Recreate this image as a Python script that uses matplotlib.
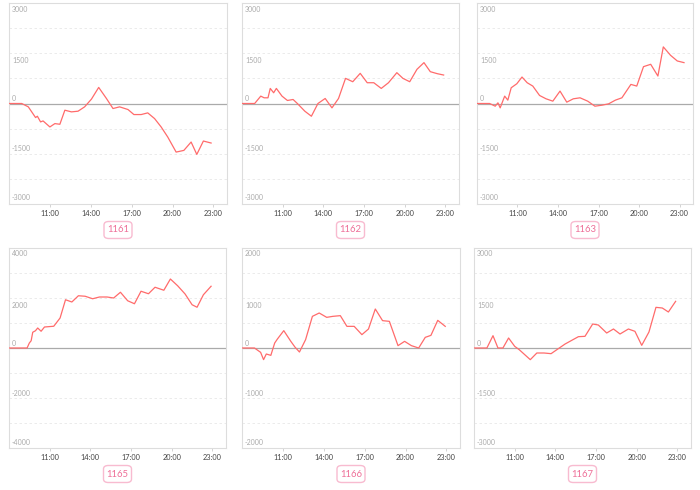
import matplotlib
matplotlib.use("Agg")
import matplotlib.pyplot as plt
from matplotlib.patches import FancyBboxPatch
from matplotlib.transforms import blended_transform_factory

# panel names
names = ["1161", "1162", "1163", "1165", "1166", "1167"]

# y axis half ranges per panel
ylims = [3000, 3000, 3000, 4000, 2000, 3000]

# times (HH:MM) and values
t1161 = ["08:00", "08:56", "09:25", "09:40", "09:57", "10:05", "10:19", "10:30", "11:00", "11:22",
         "11:44", "12:06", "12:35", "13:04", "13:33", "14:03", "14:35", "15:09", "15:38", "16:07",
         "16:44", "17:10", "17:42", "18:11", "18:41", "19:10", "19:39", "20:16", "20:50", "21:22",
         "21:47", "22:16", "22:50"]
v1161 = [0, 0, -100, -250, -420, -380, -550, -520, -700, -600,
         -620, -200, -250, -230, -100, 130, 480, 150, -150, -100,
         -180, -330, -330, -280, -450, -700, -1000, -1450, -1400, -1150,
         -1520, -1120, -1180]

t1162 = ["08:00", "08:56", "09:23", "09:38", "09:55", "10:05", "10:20", "10:32", "10:57", "11:21",
         "11:46", "12:05", "12:38", "13:07", "13:36", "14:08", "14:38", "15:07", "15:38", "16:10",
         "16:43", "17:14", "17:43", "18:16", "18:48", "19:25", "19:52", "20:22", "20:54", "21:25",
         "21:53", "22:24", "22:52"]
v1162 = [0, 0, 220, 170, 170, 450, 320, 450, 220, 90,
         120, 0, -230, -380, 0, 150, -130, 150, 750, 650,
         900, 620, 620, 450, 620, 920, 750, 650, 1020, 1220,
         950, 890, 850]

t1163 = ["08:00", "08:56", "09:21", "09:33", "09:43", "10:03", "10:17", "10:32", "10:57", "11:20",
         "11:43", "12:08", "12:38", "13:07", "13:37", "14:09", "14:39", "15:08", "15:38", "16:12",
         "16:44", "17:16", "17:45", "18:15", "18:44", "19:24", "19:50", "20:20", "20:52", "21:24",
         "21:48", "22:20", "22:50", "23:20"]
v1163 = [0, 0, -80, 20, -130, 220, 100, 470, 590, 790,
         620, 520, 240, 140, 70, 370, 40, 140, 170, 70,
         -80, -50, -10, 100, 170, 570, 520, 1100, 1170, 820,
         1690, 1440, 1270, 1220]

t1165 = ["08:00", "09:20", "09:30", "09:38", "09:45", "09:57", "10:07", "10:22", "10:37", "11:18",
         "11:46", "12:10", "12:38", "13:07", "13:37", "14:10", "14:40", "15:14", "15:43", "16:13",
         "16:45", "17:15", "17:44", "18:17", "18:46", "19:25", "19:54", "20:26", "20:59", "21:30",
         "21:52", "22:20", "22:54"]
v1165 = [0, 0, 200, 290, 630, 690, 800, 670, 840, 870,
         1200, 1930, 1840, 2090, 2070, 1970, 2040, 2040, 2000, 2230,
         1890, 1770, 2270, 2170, 2430, 2310, 2760, 2490, 2160, 1730,
         1630, 2130, 2470]

t1166 = ["08:00", "08:55", "09:22", "09:35", "09:47", "10:07", "10:24", "10:36", "11:04", "11:35",
         "11:53", "12:13", "12:40", "13:10", "13:40", "14:13", "14:40", "15:13", "15:42", "16:14",
         "16:48", "17:17", "17:47", "18:19", "18:49", "19:27", "19:56", "20:26", "20:58", "21:27",
         "21:52", "22:22", "22:55"]
v1166 = [0, 0, -87, -233, -120, -147, 100, 180, 347, 133,
         20, -80, 167, 633, 700, 613, 633, 647, 433, 433,
         267, 380, 780, 547, 533, 47, 133, 47, 0, 213,
         253, 553, 433]

t1167 = ["08:00", "08:57", "09:24", "09:46", "10:08", "10:33", "11:00", "11:20", "12:09", "12:38",
         "13:10", "13:41", "14:43", "15:42", "16:11", "16:45", "17:10", "17:47", "18:17", "18:46",
         "19:23", "19:52", "20:22", "20:54", "21:25", "21:53", "22:20", "22:52"]
v1167 = [0, 0, 370, 0, 0, 300, 50, -50, -350, -150,
         -150, -170, 120, 340, 350, 720, 690, 450, 570, 420,
         570, 500, 80, 480, 1220, 1200, 1080, 1400]

times = [t1161, t1162, t1163, t1165, t1166, t1167]
values = [v1161, v1162, v1163, v1165, v1166, v1167]

xticks = [11, 14, 17, 20, 23]
xticklabels = ["11:00", "14:00", "17:00", "20:00", "23:00"]


def to_hours(s):
    h, m = s.split(":")
    return int(h) + int(m) / 60.0


# axes boxes in pixels (left, right, top, bottom) on a 700x490 canvas
W, H = 700, 490
boxes = [(9, 227, 3, 204), (242, 459, 3, 204), (477, 693, 3, 204),
         (9, 226, 248, 448), (242, 460, 248, 448), (474, 691, 248, 448)]

fig = plt.figure(figsize=(7, 4.9), dpi=100)
px = 72 / 100.0  # points per pixel

for i in range(6):
    l, r, t, b = boxes[i]
    ax = fig.add_axes([l / W, (H - b) / H, (r - l) / W, (b - t) / H])
    lim = ylims[i]
    ax.set_xlim(8, 24)
    ax.set_ylim(-lim, lim)

    # faint grid every quarter of the half range
    for k in range(-3, 4):
        if k == 0:
            continue
        ax.axhline(k * lim / 4, color="#e8e8e8", lw=0.6, ls=(0, (3, 3)), zorder=1)
    ax.axhline(0, color="#aaaaaa", lw=0.9, zorder=2)

    xs = [to_hours(s) for s in times[i]]
    ax.plot(xs, values[i], color="#ff6b6b", lw=0.9, zorder=3)

    for sp in ax.spines.values():
        sp.set_color("#dddddd")
        sp.set_linewidth(0.8)

    ax.set_yticks([])
    ax.set_xticks(xticks)
    ax.set_xticklabels(xticklabels, fontsize=5.3, color="#444444", family="Lato")
    ax.tick_params(axis="x", length=2, width=0.6, color="#cccccc", pad=2.5)

    # y labels drawn inside the plot
    tr = blended_transform_factory(ax.transAxes, ax.transData)
    ylabs = [(lim, -6), (lim / 2, -7), (0, 5), (-lim / 2, 5), (-lim, 6)]
    for val, off in ylabs:
        ax.annotate(str(int(val)), xy=(0, val), xycoords=tr,
                    xytext=(3 * px, off * px), textcoords="offset points",
                    ha="left", va="center", fontsize=5, color="#aaaaaa", family="Lato")

    # pink name tag under each chart
    cx = (l + r) / 2.0 / W
    cy = (H - (b + 26)) / H
    bw, bh = 28.0 / W, 17.0 / H
    tag = FancyBboxPatch((cx - bw / 2, cy - bh / 2), bw, bh,
                         boxstyle="round,pad=0,rounding_size=0.007",
                         transform=fig.transFigure, fill=False,
                         edgecolor="#f8bbd0", lw=1.0)
    fig.patches.append(tag)
    fig.text(cx, cy, names[i], ha="center", va="center", fontsize=6.8,
             color="#ee6f98", family="Lato")

fig.savefig("out.png", dpi=100)
